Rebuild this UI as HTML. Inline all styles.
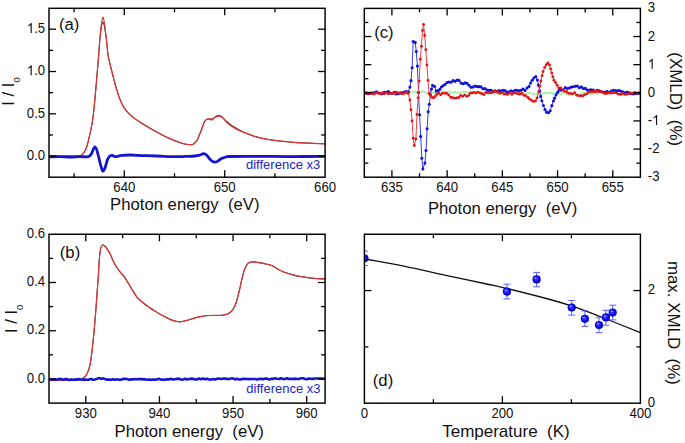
<!DOCTYPE html>
<html><head><meta charset="utf-8"><style>
html,body{margin:0;padding:0;background:#fff;}
svg{display:block;}
text{font-family:"Liberation Sans", sans-serif;}
</style></head><body>
<svg width="685" height="443" viewBox="0 0 685 443">
<rect width="685" height="443" fill="#fff"/>
<defs>
<clipPath id="ca"><rect x="49.0" y="8.3" width="276.1" height="168.89999999999998"/></clipPath>
<clipPath id="cb"><rect x="49.0" y="234.25" width="276.1" height="168.85000000000002"/></clipPath>
<clipPath id="cc"><rect x="364.3" y="8.4" width="276.09999999999997" height="168.79999999999998"/></clipPath>
<clipPath id="cd"><rect x="364.4" y="234.25" width="276.0" height="168.95"/></clipPath>
</defs>
<g clip-path="url(#ca)">
<path d="M49.00,156.30 C51.67,156.28 59.95,156.27 65.00,156.20 C70.05,156.13 76.38,156.23 79.30,155.90 C82.22,155.57 81.55,155.05 82.50,154.20 C83.45,153.35 84.28,152.08 85.00,150.80 C85.72,149.52 86.22,148.30 86.80,146.50 C87.38,144.70 87.85,142.67 88.50,140.00 C89.15,137.33 89.98,134.00 90.70,130.50 C91.42,127.00 92.15,123.68 92.80,119.00 C93.45,114.32 93.95,109.12 94.60,102.40 C95.25,95.68 96.02,86.60 96.70,78.70 C97.38,70.80 98.17,61.54 98.70,55.00 C99.23,48.46 99.45,44.10 99.90,39.45 C100.35,34.80 100.90,29.98 101.40,27.12 C101.90,24.27 102.40,22.47 102.90,22.30 C103.40,22.13 103.83,23.35 104.40,26.12 C104.97,28.90 105.70,34.14 106.30,38.95 C106.90,43.76 107.50,51.33 108.00,55.00 C108.50,58.67 108.82,58.90 109.30,61.00 C109.78,63.10 110.10,64.38 110.90,67.60 C111.70,70.82 113.05,76.35 114.10,80.30 C115.15,84.25 116.02,87.62 117.20,91.30 C118.38,94.98 119.75,99.23 121.20,102.40 C122.65,105.57 124.07,107.93 125.90,110.30 C127.73,112.67 129.68,114.52 132.20,116.60 C134.72,118.68 138.03,120.85 141.00,122.80 C143.97,124.75 146.47,126.27 150.00,128.30 C153.53,130.33 158.53,133.12 162.20,135.00 C165.87,136.88 168.60,138.18 172.00,139.60 C175.40,141.02 179.80,142.67 182.60,143.50 C185.40,144.33 187.03,144.47 188.80,144.60 C190.57,144.73 191.77,145.10 193.20,144.30 C194.63,143.50 196.38,141.35 197.40,139.80 C198.42,138.25 198.65,136.58 199.30,135.00 C199.95,133.42 200.50,132.40 201.30,130.30 C202.10,128.20 203.23,124.22 204.10,122.40 C204.97,120.58 205.65,119.97 206.50,119.40 C207.35,118.83 208.28,118.88 209.20,118.97 C210.12,119.05 210.95,120.29 212.00,119.90 C213.05,119.51 214.38,117.33 215.50,116.60 C216.62,115.87 217.63,115.50 218.70,115.50 C219.77,115.50 220.58,115.60 221.90,116.60 C223.22,117.60 224.90,119.97 226.60,121.50 C228.30,123.03 230.13,124.48 232.10,125.80 C234.07,127.12 236.25,128.23 238.40,129.40 C240.55,130.57 242.67,131.77 245.00,132.80 C247.33,133.83 249.57,134.68 252.40,135.60 C255.23,136.52 257.90,137.45 262.00,138.30 C266.10,139.15 272.00,140.05 277.00,140.70 C282.00,141.35 286.90,141.80 292.00,142.20 C297.10,142.60 302.10,142.83 307.60,143.10 C313.10,143.37 322.10,143.68 325.00,143.80" fill="none" stroke="#333" stroke-width="1.05"/>
<path d="M49.00,156.30 C51.67,156.28 59.95,156.27 65.00,156.20 C70.05,156.13 76.38,156.23 79.30,155.90 C82.22,155.57 81.55,155.05 82.50,154.20 C83.45,153.35 84.28,152.08 85.00,150.80 C85.72,149.52 86.22,148.30 86.80,146.50 C87.38,144.70 87.85,142.67 88.50,140.00 C89.15,137.33 89.98,134.00 90.70,130.50 C91.42,127.00 92.15,123.68 92.80,119.00 C93.45,114.32 93.95,109.12 94.60,102.40 C95.25,95.68 96.02,86.60 96.70,78.70 C97.38,70.80 98.17,61.75 98.70,55.00 C99.23,48.25 99.45,43.37 99.90,38.20 C100.35,33.03 100.90,27.48 101.40,24.00 C101.90,20.52 102.40,17.47 102.90,17.30 C103.40,17.13 103.83,19.52 104.40,23.00 C104.97,26.48 105.70,32.87 106.30,38.20 C106.90,43.53 107.50,51.20 108.00,55.00 C108.50,58.80 108.82,58.90 109.30,61.00 C109.78,63.10 110.10,64.38 110.90,67.60 C111.70,70.82 113.05,76.35 114.10,80.30 C115.15,84.25 116.02,87.62 117.20,91.30 C118.38,94.98 119.75,99.23 121.20,102.40 C122.65,105.57 124.07,107.93 125.90,110.30 C127.73,112.67 129.68,114.52 132.20,116.60 C134.72,118.68 138.03,120.85 141.00,122.80 C143.97,124.75 146.47,126.27 150.00,128.30 C153.53,130.33 158.53,133.12 162.20,135.00 C165.87,136.88 168.60,138.18 172.00,139.60 C175.40,141.02 179.80,142.67 182.60,143.50 C185.40,144.33 187.03,144.47 188.80,144.60 C190.57,144.73 191.77,145.10 193.20,144.30 C194.63,143.50 196.38,141.35 197.40,139.80 C198.42,138.25 198.65,136.58 199.30,135.00 C199.95,133.42 200.50,132.40 201.30,130.30 C202.10,128.20 203.23,124.22 204.10,122.40 C204.97,120.58 205.65,119.98 206.50,119.40 C207.35,118.82 208.28,118.98 209.20,118.90 C210.12,118.82 210.95,119.17 212.00,118.90 C213.05,118.63 214.38,117.75 215.50,117.30 C216.62,116.85 217.63,116.20 218.70,116.20 C219.77,116.20 220.58,116.30 221.90,117.30 C223.22,118.30 224.90,120.67 226.60,122.20 C228.30,123.73 230.13,125.18 232.10,126.50 C234.07,127.82 236.25,129.05 238.40,130.10 C240.55,131.15 242.67,131.88 245.00,132.80 C247.33,133.72 249.57,134.68 252.40,135.60 C255.23,136.52 257.90,137.45 262.00,138.30 C266.10,139.15 272.00,140.05 277.00,140.70 C282.00,141.35 286.90,141.80 292.00,142.20 C297.10,142.60 302.10,142.83 307.60,143.10 C313.10,143.37 322.10,143.68 325.00,143.80" fill="none" stroke="#e23434" stroke-width="1.2"/>
<path d="M49.00,156.80 C50.83,156.77 56.50,156.57 60.00,156.60 C63.50,156.63 66.67,157.00 70.00,157.00 C73.33,157.00 76.95,156.65 80.00,156.60 C83.05,156.55 86.38,157.20 88.30,156.70 C90.22,156.20 90.63,154.90 91.50,153.60 C92.37,152.30 92.90,150.00 93.50,148.90 C94.10,147.80 94.55,146.83 95.10,147.00 C95.65,147.17 96.15,148.00 96.80,149.90 C97.45,151.80 98.30,155.65 99.00,158.40 C99.70,161.15 100.33,164.27 101.00,166.40 C101.67,168.53 102.33,170.95 103.00,171.20 C103.67,171.45 104.23,169.87 105.00,167.90 C105.77,165.93 106.77,161.38 107.60,159.40 C108.43,157.42 109.22,156.67 110.00,156.00 C110.78,155.33 111.43,155.28 112.30,155.40 C113.17,155.52 113.58,156.70 115.20,156.70 C116.82,156.70 119.47,155.68 122.00,155.40 C124.53,155.12 126.90,154.97 130.40,155.00 C133.90,155.03 138.58,155.43 143.00,155.60 C147.42,155.77 151.42,155.82 156.90,156.00 C162.38,156.18 171.22,156.63 175.90,156.70 C180.58,156.77 181.83,156.52 185.00,156.40 C188.17,156.28 192.40,156.23 194.90,156.00 C197.40,155.77 198.58,155.40 200.00,155.00 C201.42,154.60 202.40,153.67 203.40,153.60 C204.40,153.53 205.20,154.03 206.00,154.60 C206.80,155.17 207.37,156.03 208.20,157.00 C209.03,157.97 209.90,159.53 211.00,160.40 C212.10,161.27 213.63,162.10 214.80,162.20 C215.97,162.30 216.88,161.60 218.00,161.00 C219.12,160.40 220.17,159.27 221.50,158.60 C222.83,157.93 224.58,157.35 226.00,157.00 C227.42,156.65 224.33,156.60 230.00,156.50 C235.67,156.40 250.00,156.38 260.00,156.40 C270.00,156.42 279.17,156.62 290.00,156.60 C300.83,156.58 319.17,156.35 325.00,156.30" fill="none" stroke="#1515d0" stroke-width="2.8" stroke-linejoin="round"/>
</g>
<rect x="49.0" y="8.3" width="276.10" height="168.90" fill="none" stroke="#000" stroke-width="1.45"/>
<line x1="124.30" y1="177.2" x2="124.30" y2="170.2" stroke="#000" stroke-width="1.3"/>
<line x1="124.30" y1="8.3" x2="124.30" y2="15.3" stroke="#000" stroke-width="1.3"/>
<line x1="224.70" y1="177.2" x2="224.70" y2="170.2" stroke="#000" stroke-width="1.3"/>
<line x1="224.70" y1="8.3" x2="224.70" y2="15.3" stroke="#000" stroke-width="1.3"/>
<line x1="74.10" y1="177.2" x2="74.10" y2="173.2" stroke="#000" stroke-width="1.3"/>
<line x1="74.10" y1="8.3" x2="74.10" y2="12.3" stroke="#000" stroke-width="1.3"/>
<line x1="174.50" y1="177.2" x2="174.50" y2="173.2" stroke="#000" stroke-width="1.3"/>
<line x1="174.50" y1="8.3" x2="174.50" y2="12.3" stroke="#000" stroke-width="1.3"/>
<line x1="274.90" y1="177.2" x2="274.90" y2="173.2" stroke="#000" stroke-width="1.3"/>
<line x1="274.90" y1="8.3" x2="274.90" y2="12.3" stroke="#000" stroke-width="1.3"/>
<line x1="49.0" y1="156.10" x2="56.0" y2="156.10" stroke="#000" stroke-width="1.3"/>
<line x1="325.1" y1="156.10" x2="318.1" y2="156.10" stroke="#000" stroke-width="1.3"/>
<line x1="49.0" y1="113.80" x2="56.0" y2="113.80" stroke="#000" stroke-width="1.3"/>
<line x1="325.1" y1="113.80" x2="318.1" y2="113.80" stroke="#000" stroke-width="1.3"/>
<line x1="49.0" y1="71.50" x2="56.0" y2="71.50" stroke="#000" stroke-width="1.3"/>
<line x1="325.1" y1="71.50" x2="318.1" y2="71.50" stroke="#000" stroke-width="1.3"/>
<line x1="49.0" y1="29.20" x2="56.0" y2="29.20" stroke="#000" stroke-width="1.3"/>
<line x1="325.1" y1="29.20" x2="318.1" y2="29.20" stroke="#000" stroke-width="1.3"/>
<line x1="49.0" y1="134.95" x2="53.0" y2="134.95" stroke="#000" stroke-width="1.3"/>
<line x1="325.1" y1="134.95" x2="321.1" y2="134.95" stroke="#000" stroke-width="1.3"/>
<line x1="49.0" y1="92.65" x2="53.0" y2="92.65" stroke="#000" stroke-width="1.3"/>
<line x1="325.1" y1="92.65" x2="321.1" y2="92.65" stroke="#000" stroke-width="1.3"/>
<line x1="49.0" y1="50.35" x2="53.0" y2="50.35" stroke="#000" stroke-width="1.3"/>
<line x1="325.1" y1="50.35" x2="321.1" y2="50.35" stroke="#000" stroke-width="1.3"/>
<text transform="translate(124.30,191.80) scale(1,1.075)" font-size="13.2" text-anchor="middle" fill="#111">640</text>
<text transform="translate(224.70,191.80) scale(1,1.075)" font-size="13.2" text-anchor="middle" fill="#111">650</text>
<text transform="translate(325.10,191.80) scale(1,1.075)" font-size="13.2" text-anchor="middle" fill="#111">660</text>
<text transform="translate(45.20,159.80) scale(1,1.075)" font-size="13.2" text-anchor="end" fill="#111">0.0</text>
<text transform="translate(45.20,117.50) scale(1,1.075)" font-size="13.2" text-anchor="end" fill="#111">0.5</text>
<g transform="translate(26.85,75.20) scale(1,1.075)" fill="#111"><path transform="translate(0.00,0) scale(0.006445,-0.006445)" d="M763,0 L583,0 L583,1147 Q518,1085 412,1023 Q306,961 222,930 L222,1104 Q373,1175 486,1276 Q580,1360 630,1420 L763,1420 Z"/><text x="7.34" y="0" font-size="13.2">.0</text></g>
<g transform="translate(26.85,32.90) scale(1,1.075)" fill="#111"><path transform="translate(0.00,0) scale(0.006445,-0.006445)" d="M763,0 L583,0 L583,1147 Q518,1085 412,1023 Q306,961 222,930 L222,1104 Q373,1175 486,1276 Q580,1360 630,1420 L763,1420 Z"/><text x="7.34" y="0" font-size="13.2">.5</text></g>
<text x="110.10" y="209.50" font-size="16.7" text-anchor="start" fill="#111" >Photon energy&#160;&#160;(eV)</text>
<text x="59.00" y="29.70" font-size="16.7" text-anchor="start" fill="#111" >(a)</text>
<text x="246.00" y="169.20" font-size="13.0" text-anchor="start" fill="#2424cc" >difference x3</text>
<g transform="translate(14.3,105.8) rotate(-90)"><text x="0" y="0" font-size="16.7" fill="#111">I / I<tspan font-size="9.6" dy="6">0</tspan></text></g>
<g clip-path="url(#cb)">
<path d="M49.00,380.30 C51.67,380.30 60.17,380.35 65.00,380.30 C69.83,380.25 75.12,380.28 78.00,380.00 C80.88,379.72 81.13,379.17 82.30,378.60 C83.47,378.03 84.15,377.53 85.00,376.60 C85.85,375.67 86.73,374.35 87.40,373.00 C88.07,371.65 88.50,370.18 89.00,368.50 C89.50,366.82 89.82,366.53 90.40,362.90 C90.98,359.27 91.82,352.78 92.50,346.70 C93.18,340.62 93.82,334.18 94.50,326.40 C95.18,318.62 95.98,308.15 96.60,300.00 C97.22,291.85 97.73,284.42 98.20,277.50 C98.67,270.58 99.02,263.17 99.40,258.50 C99.78,253.83 100.13,251.55 100.50,249.50 C100.87,247.45 101.20,246.93 101.60,246.20 C102.00,245.47 102.45,245.20 102.90,245.10 C103.35,245.00 103.77,245.20 104.30,245.60 C104.83,246.00 105.15,246.13 106.10,247.50 C107.05,248.87 108.57,251.05 110.00,253.80 C111.43,256.55 113.12,261.10 114.70,264.00 C116.28,266.90 117.92,269.08 119.50,271.20 C121.08,273.32 122.75,274.73 124.20,276.70 C125.65,278.67 126.75,280.63 128.20,283.00 C129.65,285.37 131.33,288.40 132.90,290.90 C134.47,293.40 135.75,295.90 137.60,298.00 C139.45,300.10 142.02,301.92 144.00,303.50 C145.98,305.08 147.73,306.27 149.50,307.50 C151.27,308.73 152.53,309.60 154.60,310.90 C156.67,312.20 159.47,313.97 161.90,315.30 C164.33,316.63 167.02,317.93 169.20,318.90 C171.38,319.87 173.18,320.62 175.00,321.10 C176.82,321.58 178.15,321.92 180.10,321.80 C182.05,321.68 184.38,321.00 186.70,320.40 C189.02,319.80 191.57,318.87 194.00,318.20 C196.43,317.53 198.62,316.85 201.30,316.40 C203.98,315.95 206.93,315.67 210.10,315.50 C213.27,315.33 217.57,315.57 220.30,315.40 C223.03,315.23 224.80,315.03 226.50,314.50 C228.20,313.97 229.33,313.20 230.50,312.20 C231.67,311.20 232.55,310.12 233.50,308.50 C234.45,306.88 235.25,305.40 236.20,302.50 C237.15,299.60 238.17,295.37 239.20,291.10 C240.23,286.83 241.48,280.58 242.40,276.90 C243.32,273.22 243.78,271.25 244.70,269.00 C245.62,266.75 246.58,264.60 247.90,263.40 C249.22,262.20 250.62,261.90 252.60,261.80 C254.58,261.70 257.70,262.47 259.80,262.80 C261.90,263.13 263.10,263.30 265.20,263.80 C267.30,264.30 270.35,264.95 272.40,265.80 C274.45,266.65 275.63,267.87 277.50,268.90 C279.37,269.93 281.38,271.12 283.60,272.00 C285.82,272.88 288.42,273.52 290.80,274.20 C293.18,274.88 295.35,275.57 297.90,276.10 C300.45,276.63 303.03,276.98 306.10,277.40 C309.17,277.82 313.15,278.35 316.30,278.60 C319.45,278.85 323.55,278.85 325.00,278.90" fill="none" stroke="#333" stroke-width="1.05"/>
<path d="M49.00,380.30 C51.67,380.30 60.17,380.35 65.00,380.30 C69.83,380.25 75.12,380.28 78.00,380.00 C80.88,379.72 81.13,379.17 82.30,378.60 C83.47,378.03 84.15,377.53 85.00,376.60 C85.85,375.67 86.73,374.35 87.40,373.00 C88.07,371.65 88.50,370.18 89.00,368.50 C89.50,366.82 89.82,366.53 90.40,362.90 C90.98,359.27 91.82,352.78 92.50,346.70 C93.18,340.62 93.82,334.18 94.50,326.40 C95.18,318.62 95.98,308.15 96.60,300.00 C97.22,291.85 97.73,284.42 98.20,277.50 C98.67,270.58 99.02,263.17 99.40,258.50 C99.78,253.83 100.13,251.55 100.50,249.50 C100.87,247.45 101.20,246.93 101.60,246.20 C102.00,245.47 102.45,245.20 102.90,245.10 C103.35,245.00 103.77,245.20 104.30,245.60 C104.83,246.00 105.15,246.13 106.10,247.50 C107.05,248.87 108.57,251.05 110.00,253.80 C111.43,256.55 113.12,261.10 114.70,264.00 C116.28,266.90 117.92,269.08 119.50,271.20 C121.08,273.32 122.75,274.73 124.20,276.70 C125.65,278.67 126.75,280.63 128.20,283.00 C129.65,285.37 131.33,288.40 132.90,290.90 C134.47,293.40 135.75,295.90 137.60,298.00 C139.45,300.10 142.02,301.92 144.00,303.50 C145.98,305.08 147.73,306.27 149.50,307.50 C151.27,308.73 152.53,309.60 154.60,310.90 C156.67,312.20 159.47,313.97 161.90,315.30 C164.33,316.63 167.02,317.93 169.20,318.90 C171.38,319.87 173.18,320.62 175.00,321.10 C176.82,321.58 178.15,321.92 180.10,321.80 C182.05,321.68 184.38,321.00 186.70,320.40 C189.02,319.80 191.57,318.87 194.00,318.20 C196.43,317.53 198.62,316.85 201.30,316.40 C203.98,315.95 206.93,315.67 210.10,315.50 C213.27,315.33 217.57,315.57 220.30,315.40 C223.03,315.23 224.80,315.03 226.50,314.50 C228.20,313.97 229.33,313.20 230.50,312.20 C231.67,311.20 232.55,310.12 233.50,308.50 C234.45,306.88 235.25,305.40 236.20,302.50 C237.15,299.60 238.17,295.37 239.20,291.10 C240.23,286.83 241.48,280.58 242.40,276.90 C243.32,273.22 243.78,271.25 244.70,269.00 C245.62,266.75 246.58,264.60 247.90,263.40 C249.22,262.20 250.62,261.90 252.60,261.80 C254.58,261.70 257.70,262.47 259.80,262.80 C261.90,263.13 263.10,263.30 265.20,263.80 C267.30,264.30 270.35,264.95 272.40,265.80 C274.45,266.65 275.63,267.87 277.50,268.90 C279.37,269.93 281.38,271.12 283.60,272.00 C285.82,272.88 288.42,273.52 290.80,274.20 C293.18,274.88 295.35,275.57 297.90,276.10 C300.45,276.63 303.03,276.98 306.10,277.40 C309.17,277.82 313.15,278.35 316.30,278.60 C319.45,278.85 323.55,278.85 325.00,278.90" fill="none" stroke="#e23434" stroke-width="1.2"/>
<path d="M49.00,379.19 L51.00,379.55 L53.00,379.33 L55.00,379.61 L57.00,379.63 L59.00,378.95 L61.00,378.88 L63.00,379.86 L65.00,379.16 L67.00,379.13 L69.00,380.04 L71.00,379.40 L73.00,379.83 L75.00,379.40 L77.00,379.59 L79.00,378.99 L81.00,379.57 L83.00,379.84 L85.00,379.42 L87.00,379.68 L89.00,379.59 L91.00,378.86 L93.00,379.68 L95.00,379.48 L97.00,378.84 L99.00,378.11 L101.00,378.71 L103.00,378.39 L105.00,379.08 L107.00,379.67 L109.00,379.58 L111.00,379.83 L113.00,379.19 L115.00,379.67 L117.00,379.24 L119.00,379.82 L121.00,379.75 L123.00,378.80 L125.00,378.84 L127.00,378.93 L129.00,379.83 L131.00,379.19 L133.00,379.41 L135.00,379.01 L137.00,379.25 L139.00,379.10 L141.00,379.05 L143.00,379.33 L145.00,379.32 L147.00,379.70 L149.00,379.43 L151.00,379.72 L153.00,379.63 L155.00,379.78 L157.00,379.39 L159.00,378.78 L161.00,379.61 L163.00,379.73 L165.00,379.65 L167.00,379.24 L169.00,379.41 L171.00,378.80 L173.00,379.54 L175.00,379.22 L177.00,378.87 L179.00,378.60 L181.00,379.54 L183.00,379.70 L185.00,378.61 L187.00,379.46 L189.00,378.99 L191.00,378.67 L193.00,378.84 L195.00,379.40 L197.00,379.52 L199.00,378.52 L201.00,379.20 L203.00,378.51 L205.00,379.31 L207.00,378.84 L209.00,379.49 L211.00,379.61 L213.00,379.03 L215.00,379.62 L217.00,378.78 L219.00,378.50 L221.00,379.12 L223.00,378.43 L225.00,378.63 L227.00,378.87 L229.00,379.11 L231.00,378.56 L233.00,378.42 L235.00,379.40 L237.00,378.73 L239.00,379.50 L241.00,379.42 L243.00,378.79 L245.00,378.88 L247.00,378.95 L249.00,379.09 L251.00,379.03 L253.00,378.98 L255.00,379.05 L257.00,379.43 L259.00,378.90 L261.00,378.80 L263.00,379.14 L265.00,378.56 L267.00,378.63 L269.00,379.44 L271.00,378.88 L273.00,378.91 L275.00,378.26 L277.00,378.74 L279.00,378.93 L281.00,378.25 L283.00,378.96 L285.00,378.97 L287.00,378.28 L289.00,378.96 L291.00,378.76 L293.00,379.01 L295.00,378.61 L297.00,379.03 L299.00,379.06 L301.00,378.20 L303.00,378.24 L305.00,378.97 L307.00,379.31 L309.00,378.45 L311.00,378.69 L313.00,378.85 L315.00,378.51 L317.00,378.56 L319.00,378.49 L321.00,378.55 L323.00,378.82 L325.00,378.46" fill="none" stroke="#1515d0" stroke-width="2.6" stroke-linejoin="round"/>
</g>
<rect x="49.0" y="234.25" width="276.10" height="168.85" fill="none" stroke="#000" stroke-width="1.45"/>
<line x1="85.81" y1="403.1" x2="85.81" y2="396.1" stroke="#000" stroke-width="1.3"/>
<line x1="85.81" y1="234.25" x2="85.81" y2="241.25" stroke="#000" stroke-width="1.3"/>
<line x1="159.44" y1="403.1" x2="159.44" y2="396.1" stroke="#000" stroke-width="1.3"/>
<line x1="159.44" y1="234.25" x2="159.44" y2="241.25" stroke="#000" stroke-width="1.3"/>
<line x1="233.07" y1="403.1" x2="233.07" y2="396.1" stroke="#000" stroke-width="1.3"/>
<line x1="233.07" y1="234.25" x2="233.07" y2="241.25" stroke="#000" stroke-width="1.3"/>
<line x1="306.69" y1="403.1" x2="306.69" y2="396.1" stroke="#000" stroke-width="1.3"/>
<line x1="306.69" y1="234.25" x2="306.69" y2="241.25" stroke="#000" stroke-width="1.3"/>
<line x1="122.63" y1="403.1" x2="122.63" y2="399.1" stroke="#000" stroke-width="1.3"/>
<line x1="122.63" y1="234.25" x2="122.63" y2="238.25" stroke="#000" stroke-width="1.3"/>
<line x1="196.25" y1="403.1" x2="196.25" y2="399.1" stroke="#000" stroke-width="1.3"/>
<line x1="196.25" y1="234.25" x2="196.25" y2="238.25" stroke="#000" stroke-width="1.3"/>
<line x1="269.88" y1="403.1" x2="269.88" y2="399.1" stroke="#000" stroke-width="1.3"/>
<line x1="269.88" y1="234.25" x2="269.88" y2="238.25" stroke="#000" stroke-width="1.3"/>
<line x1="49.0" y1="378.98" x2="56.0" y2="378.98" stroke="#000" stroke-width="1.3"/>
<line x1="325.1" y1="378.98" x2="318.1" y2="378.98" stroke="#000" stroke-width="1.3"/>
<line x1="49.0" y1="330.74" x2="56.0" y2="330.74" stroke="#000" stroke-width="1.3"/>
<line x1="325.1" y1="330.74" x2="318.1" y2="330.74" stroke="#000" stroke-width="1.3"/>
<line x1="49.0" y1="282.49" x2="56.0" y2="282.49" stroke="#000" stroke-width="1.3"/>
<line x1="325.1" y1="282.49" x2="318.1" y2="282.49" stroke="#000" stroke-width="1.3"/>
<line x1="49.0" y1="354.86" x2="53.0" y2="354.86" stroke="#000" stroke-width="1.3"/>
<line x1="325.1" y1="354.86" x2="321.1" y2="354.86" stroke="#000" stroke-width="1.3"/>
<line x1="49.0" y1="306.61" x2="53.0" y2="306.61" stroke="#000" stroke-width="1.3"/>
<line x1="325.1" y1="306.61" x2="321.1" y2="306.61" stroke="#000" stroke-width="1.3"/>
<line x1="49.0" y1="258.37" x2="53.0" y2="258.37" stroke="#000" stroke-width="1.3"/>
<line x1="325.1" y1="258.37" x2="321.1" y2="258.37" stroke="#000" stroke-width="1.3"/>
<text transform="translate(85.81,418.00) scale(1,1.075)" font-size="13.2" text-anchor="middle" fill="#111">930</text>
<text transform="translate(159.44,418.00) scale(1,1.075)" font-size="13.2" text-anchor="middle" fill="#111">940</text>
<text transform="translate(233.07,418.00) scale(1,1.075)" font-size="13.2" text-anchor="middle" fill="#111">950</text>
<text transform="translate(306.69,418.00) scale(1,1.075)" font-size="13.2" text-anchor="middle" fill="#111">960</text>
<text transform="translate(45.20,382.68) scale(1,1.075)" font-size="13.2" text-anchor="end" fill="#111">0.0</text>
<text transform="translate(45.20,334.44) scale(1,1.075)" font-size="13.2" text-anchor="end" fill="#111">0.2</text>
<text transform="translate(45.20,286.19) scale(1,1.075)" font-size="13.2" text-anchor="end" fill="#111">0.4</text>
<text transform="translate(45.20,237.95) scale(1,1.075)" font-size="13.2" text-anchor="end" fill="#111">0.6</text>
<text x="114.50" y="437.30" font-size="16.7" text-anchor="start" fill="#111" >Photon energy&#160;&#160;(eV)</text>
<text x="59.80" y="258.20" font-size="16.7" text-anchor="start" fill="#111" >(b)</text>
<text x="246.30" y="392.70" font-size="13.0" text-anchor="start" fill="#2424cc" >difference x3</text>
<g transform="translate(16.9,333.1) rotate(-90)"><text x="0" y="0" font-size="16.7" fill="#111">I / I<tspan font-size="9.6" dy="6">0</tspan></text></g>
<g clip-path="url(#cc)">
<path d="M404.00,92.01 L405.80,91.63 L407.60,92.73 L409.40,91.46 L411.20,92.48 L413.00,92.10 L414.80,91.43 L416.60,92.42 L418.40,91.38 L420.20,92.25 L422.00,91.45 L423.80,91.50 L425.60,92.23 L427.40,93.12 L429.20,91.57 L431.00,91.79 L432.80,92.68 L434.60,93.38 L436.40,92.57 L438.20,92.17 L440.00,93.45 L441.80,91.42 L443.60,93.23 L445.40,92.00 L447.20,91.70 L449.00,91.66 L450.80,92.10 L452.60,93.23 L454.40,91.86 L456.20,92.76 L458.00,92.90 L459.80,92.34 L461.60,92.74 L463.40,91.70 L465.20,91.71 L467.00,92.05 L468.80,93.11 L470.60,92.58 L472.40,92.35 L474.20,92.96 L476.00,92.69 L477.80,92.38 L479.60,93.48 L481.40,93.29 L483.20,92.31 L485.00,93.06 L486.80,92.97 L488.60,93.76 L490.40,93.46 L492.20,92.51 L494.00,94.05 L495.80,92.17 L497.60,92.85 L499.40,93.62 L501.20,92.31 L503.00,93.07 L504.80,92.10 L506.60,93.50 L508.40,93.73 L510.20,93.33 L512.00,94.02 L513.80,92.80 L515.60,93.66 L517.40,93.46 L519.20,93.45 L521.00,93.19 L522.80,94.06 L524.60,94.31 L526.40,93.29 L528.20,93.73 L530.00,92.42 L531.80,93.85 L533.60,93.75 L535.40,94.53 L537.20,94.18 L539.00,93.02 L540.80,93.26 L542.60,93.90 L544.40,92.50 L546.20,93.48 L548.00,92.86 L549.80,92.77 L551.60,92.66 L553.40,94.24 L555.20,92.85 L557.00,93.13 L558.80,93.47 L560.60,94.54 L562.40,92.82 L564.20,93.65 L566.00,93.89 L567.80,94.65 L569.60,94.53 L571.40,94.65 L573.20,93.38 L575.00,93.70 L576.80,93.59 L578.60,94.77 L580.40,94.95 L582.20,93.20 L584.00,93.27 L585.80,93.41 L587.60,93.44 L589.40,94.01 L591.20,94.26 L593.00,93.56 L594.80,93.01 L596.60,93.94 L598.40,93.85" fill="none" stroke="#a4f0a4" stroke-width="1.8"/>
<path d="M364.30,92.51 L366.30,92.92 L368.30,93.78 L370.30,93.10 L372.30,92.91 L374.30,92.78 L376.30,91.88 L378.30,92.80 L380.30,93.35 L382.30,93.87 L384.30,92.25 L386.30,92.26 L388.30,91.60 L390.30,93.15 L392.30,93.20 L394.30,92.29 L396.30,93.91 L398.30,93.64 L400.30,92.88 L402.30,92.81 L404.30,91.98 L406.30,91.55 L408.30,91.70 L409.90,87.10 L411.00,80.67 L412.10,67.79 L413.20,41.52 L415.20,42.40 L416.30,51.45 L417.40,66.10 L418.50,92.58 L419.60,114.82 L420.70,136.43 L421.80,158.27 L422.90,169.02 L424.90,163.10 L426.00,150.46 L427.10,128.87 L428.20,111.85 L429.30,104.18 L430.40,94.85 L431.50,89.11 L432.60,85.42 L434.60,86.46 L436.20,90.88 L438.20,90.82 L439.80,89.31 L441.40,87.00 L443.00,85.68 L445.00,84.53 L447.00,82.52 L449.00,82.01 L451.00,82.25 L453.00,80.61 L455.00,81.33 L457.00,80.08 L459.00,80.41 L461.00,82.93 L463.00,83.80 L465.00,82.89 L467.00,83.36 L469.00,85.27 L471.00,87.23 L473.00,87.06 L475.00,86.10 L477.00,86.59 L479.00,86.66 L481.00,86.91 L483.00,88.76 L485.00,88.45 L487.00,89.94 L489.00,90.41 L491.00,90.28 L493.00,91.58 L495.00,90.84 L497.00,91.62 L499.00,90.53 L501.00,90.93 L503.00,90.42 L505.00,90.58 L507.00,91.96 L509.00,91.78 L511.00,90.83 L513.00,91.65 L515.00,90.22 L517.00,90.32 L519.00,90.90 L521.00,90.27 L523.00,89.05 L525.00,90.41 L527.00,87.93 L529.00,86.41 L530.60,82.96 L532.20,80.27 L533.80,77.93 L535.80,76.44 L537.40,80.00 L538.50,85.16 L539.60,90.92 L540.70,96.42 L541.80,100.78 L543.40,105.48 L545.00,109.46 L546.60,112.13 L548.60,112.70 L550.20,110.72 L551.80,105.66 L553.40,101.04 L554.50,98.15 L556.10,94.89 L557.70,92.13 L559.30,89.94 L561.30,90.12 L563.30,89.68 L565.30,87.59 L567.30,88.54 L569.30,88.00 L571.30,87.09 L573.30,86.76 L575.30,86.19 L577.30,86.07 L579.30,87.73 L581.30,86.89 L583.30,88.48 L585.30,88.41 L587.30,89.94 L589.30,90.04 L591.30,89.88 L593.30,89.94 L595.30,91.20 L597.30,90.30 L599.30,90.84 L601.30,91.60 L603.30,92.28 L605.30,92.01 L607.30,91.57 L609.30,92.51 L611.30,90.94 L613.30,90.30 L615.30,90.46 L617.30,90.80 L619.30,90.61 L621.30,91.32 L623.30,92.16 L625.30,92.81 L627.30,92.16 L629.30,92.71 L631.30,93.80 L633.30,94.06 L635.30,93.48 L637.30,93.54 L639.30,93.35" fill="none" stroke="#3a3af0" stroke-width="1"/>
<circle cx="364.30" cy="92.51" r="1.55" fill="#1010d8"/>
<circle cx="366.30" cy="92.92" r="1.55" fill="#1010d8"/>
<circle cx="368.30" cy="93.78" r="1.55" fill="#1010d8"/>
<circle cx="370.30" cy="93.10" r="1.55" fill="#1010d8"/>
<circle cx="372.30" cy="92.91" r="1.55" fill="#1010d8"/>
<circle cx="374.30" cy="92.78" r="1.55" fill="#1010d8"/>
<circle cx="376.30" cy="91.88" r="1.55" fill="#1010d8"/>
<circle cx="378.30" cy="92.80" r="1.55" fill="#1010d8"/>
<circle cx="380.30" cy="93.35" r="1.55" fill="#1010d8"/>
<circle cx="382.30" cy="93.87" r="1.55" fill="#1010d8"/>
<circle cx="384.30" cy="92.25" r="1.55" fill="#1010d8"/>
<circle cx="386.30" cy="92.26" r="1.55" fill="#1010d8"/>
<circle cx="388.30" cy="91.60" r="1.55" fill="#1010d8"/>
<circle cx="390.30" cy="93.15" r="1.55" fill="#1010d8"/>
<circle cx="392.30" cy="93.20" r="1.55" fill="#1010d8"/>
<circle cx="394.30" cy="92.29" r="1.55" fill="#1010d8"/>
<circle cx="396.30" cy="93.91" r="1.55" fill="#1010d8"/>
<circle cx="398.30" cy="93.64" r="1.55" fill="#1010d8"/>
<circle cx="400.30" cy="92.88" r="1.55" fill="#1010d8"/>
<circle cx="402.30" cy="92.81" r="1.55" fill="#1010d8"/>
<circle cx="404.30" cy="91.98" r="1.55" fill="#1010d8"/>
<circle cx="406.30" cy="91.55" r="1.55" fill="#1010d8"/>
<circle cx="408.30" cy="91.70" r="1.55" fill="#1010d8"/>
<circle cx="409.90" cy="87.10" r="1.55" fill="#1010d8"/>
<circle cx="411.00" cy="80.67" r="1.55" fill="#1010d8"/>
<circle cx="412.10" cy="67.79" r="1.55" fill="#1010d8"/>
<circle cx="413.20" cy="41.52" r="1.55" fill="#1010d8"/>
<circle cx="415.20" cy="42.40" r="1.55" fill="#1010d8"/>
<circle cx="416.30" cy="51.45" r="1.55" fill="#1010d8"/>
<circle cx="417.40" cy="66.10" r="1.55" fill="#1010d8"/>
<circle cx="418.50" cy="92.58" r="1.55" fill="#1010d8"/>
<circle cx="419.60" cy="114.82" r="1.55" fill="#1010d8"/>
<circle cx="420.70" cy="136.43" r="1.55" fill="#1010d8"/>
<circle cx="421.80" cy="158.27" r="1.55" fill="#1010d8"/>
<circle cx="422.90" cy="169.02" r="1.55" fill="#1010d8"/>
<circle cx="424.90" cy="163.10" r="1.55" fill="#1010d8"/>
<circle cx="426.00" cy="150.46" r="1.55" fill="#1010d8"/>
<circle cx="427.10" cy="128.87" r="1.55" fill="#1010d8"/>
<circle cx="428.20" cy="111.85" r="1.55" fill="#1010d8"/>
<circle cx="429.30" cy="104.18" r="1.55" fill="#1010d8"/>
<circle cx="430.40" cy="94.85" r="1.55" fill="#1010d8"/>
<circle cx="431.50" cy="89.11" r="1.55" fill="#1010d8"/>
<circle cx="432.60" cy="85.42" r="1.55" fill="#1010d8"/>
<circle cx="434.60" cy="86.46" r="1.55" fill="#1010d8"/>
<circle cx="436.20" cy="90.88" r="1.55" fill="#1010d8"/>
<circle cx="438.20" cy="90.82" r="1.55" fill="#1010d8"/>
<circle cx="439.80" cy="89.31" r="1.55" fill="#1010d8"/>
<circle cx="441.40" cy="87.00" r="1.55" fill="#1010d8"/>
<circle cx="443.00" cy="85.68" r="1.55" fill="#1010d8"/>
<circle cx="445.00" cy="84.53" r="1.55" fill="#1010d8"/>
<circle cx="447.00" cy="82.52" r="1.55" fill="#1010d8"/>
<circle cx="449.00" cy="82.01" r="1.55" fill="#1010d8"/>
<circle cx="451.00" cy="82.25" r="1.55" fill="#1010d8"/>
<circle cx="453.00" cy="80.61" r="1.55" fill="#1010d8"/>
<circle cx="455.00" cy="81.33" r="1.55" fill="#1010d8"/>
<circle cx="457.00" cy="80.08" r="1.55" fill="#1010d8"/>
<circle cx="459.00" cy="80.41" r="1.55" fill="#1010d8"/>
<circle cx="461.00" cy="82.93" r="1.55" fill="#1010d8"/>
<circle cx="463.00" cy="83.80" r="1.55" fill="#1010d8"/>
<circle cx="465.00" cy="82.89" r="1.55" fill="#1010d8"/>
<circle cx="467.00" cy="83.36" r="1.55" fill="#1010d8"/>
<circle cx="469.00" cy="85.27" r="1.55" fill="#1010d8"/>
<circle cx="471.00" cy="87.23" r="1.55" fill="#1010d8"/>
<circle cx="473.00" cy="87.06" r="1.55" fill="#1010d8"/>
<circle cx="475.00" cy="86.10" r="1.55" fill="#1010d8"/>
<circle cx="477.00" cy="86.59" r="1.55" fill="#1010d8"/>
<circle cx="479.00" cy="86.66" r="1.55" fill="#1010d8"/>
<circle cx="481.00" cy="86.91" r="1.55" fill="#1010d8"/>
<circle cx="483.00" cy="88.76" r="1.55" fill="#1010d8"/>
<circle cx="485.00" cy="88.45" r="1.55" fill="#1010d8"/>
<circle cx="487.00" cy="89.94" r="1.55" fill="#1010d8"/>
<circle cx="489.00" cy="90.41" r="1.55" fill="#1010d8"/>
<circle cx="491.00" cy="90.28" r="1.55" fill="#1010d8"/>
<circle cx="493.00" cy="91.58" r="1.55" fill="#1010d8"/>
<circle cx="495.00" cy="90.84" r="1.55" fill="#1010d8"/>
<circle cx="497.00" cy="91.62" r="1.55" fill="#1010d8"/>
<circle cx="499.00" cy="90.53" r="1.55" fill="#1010d8"/>
<circle cx="501.00" cy="90.93" r="1.55" fill="#1010d8"/>
<circle cx="503.00" cy="90.42" r="1.55" fill="#1010d8"/>
<circle cx="505.00" cy="90.58" r="1.55" fill="#1010d8"/>
<circle cx="507.00" cy="91.96" r="1.55" fill="#1010d8"/>
<circle cx="509.00" cy="91.78" r="1.55" fill="#1010d8"/>
<circle cx="511.00" cy="90.83" r="1.55" fill="#1010d8"/>
<circle cx="513.00" cy="91.65" r="1.55" fill="#1010d8"/>
<circle cx="515.00" cy="90.22" r="1.55" fill="#1010d8"/>
<circle cx="517.00" cy="90.32" r="1.55" fill="#1010d8"/>
<circle cx="519.00" cy="90.90" r="1.55" fill="#1010d8"/>
<circle cx="521.00" cy="90.27" r="1.55" fill="#1010d8"/>
<circle cx="523.00" cy="89.05" r="1.55" fill="#1010d8"/>
<circle cx="525.00" cy="90.41" r="1.55" fill="#1010d8"/>
<circle cx="527.00" cy="87.93" r="1.55" fill="#1010d8"/>
<circle cx="529.00" cy="86.41" r="1.55" fill="#1010d8"/>
<circle cx="530.60" cy="82.96" r="1.55" fill="#1010d8"/>
<circle cx="532.20" cy="80.27" r="1.55" fill="#1010d8"/>
<circle cx="533.80" cy="77.93" r="1.55" fill="#1010d8"/>
<circle cx="535.80" cy="76.44" r="1.55" fill="#1010d8"/>
<circle cx="537.40" cy="80.00" r="1.55" fill="#1010d8"/>
<circle cx="538.50" cy="85.16" r="1.55" fill="#1010d8"/>
<circle cx="539.60" cy="90.92" r="1.55" fill="#1010d8"/>
<circle cx="540.70" cy="96.42" r="1.55" fill="#1010d8"/>
<circle cx="541.80" cy="100.78" r="1.55" fill="#1010d8"/>
<circle cx="543.40" cy="105.48" r="1.55" fill="#1010d8"/>
<circle cx="545.00" cy="109.46" r="1.55" fill="#1010d8"/>
<circle cx="546.60" cy="112.13" r="1.55" fill="#1010d8"/>
<circle cx="548.60" cy="112.70" r="1.55" fill="#1010d8"/>
<circle cx="550.20" cy="110.72" r="1.55" fill="#1010d8"/>
<circle cx="551.80" cy="105.66" r="1.55" fill="#1010d8"/>
<circle cx="553.40" cy="101.04" r="1.55" fill="#1010d8"/>
<circle cx="554.50" cy="98.15" r="1.55" fill="#1010d8"/>
<circle cx="556.10" cy="94.89" r="1.55" fill="#1010d8"/>
<circle cx="557.70" cy="92.13" r="1.55" fill="#1010d8"/>
<circle cx="559.30" cy="89.94" r="1.55" fill="#1010d8"/>
<circle cx="561.30" cy="90.12" r="1.55" fill="#1010d8"/>
<circle cx="563.30" cy="89.68" r="1.55" fill="#1010d8"/>
<circle cx="565.30" cy="87.59" r="1.55" fill="#1010d8"/>
<circle cx="567.30" cy="88.54" r="1.55" fill="#1010d8"/>
<circle cx="569.30" cy="88.00" r="1.55" fill="#1010d8"/>
<circle cx="571.30" cy="87.09" r="1.55" fill="#1010d8"/>
<circle cx="573.30" cy="86.76" r="1.55" fill="#1010d8"/>
<circle cx="575.30" cy="86.19" r="1.55" fill="#1010d8"/>
<circle cx="577.30" cy="86.07" r="1.55" fill="#1010d8"/>
<circle cx="579.30" cy="87.73" r="1.55" fill="#1010d8"/>
<circle cx="581.30" cy="86.89" r="1.55" fill="#1010d8"/>
<circle cx="583.30" cy="88.48" r="1.55" fill="#1010d8"/>
<circle cx="585.30" cy="88.41" r="1.55" fill="#1010d8"/>
<circle cx="587.30" cy="89.94" r="1.55" fill="#1010d8"/>
<circle cx="589.30" cy="90.04" r="1.55" fill="#1010d8"/>
<circle cx="591.30" cy="89.88" r="1.55" fill="#1010d8"/>
<circle cx="593.30" cy="89.94" r="1.55" fill="#1010d8"/>
<circle cx="595.30" cy="91.20" r="1.55" fill="#1010d8"/>
<circle cx="597.30" cy="90.30" r="1.55" fill="#1010d8"/>
<circle cx="599.30" cy="90.84" r="1.55" fill="#1010d8"/>
<circle cx="601.30" cy="91.60" r="1.55" fill="#1010d8"/>
<circle cx="603.30" cy="92.28" r="1.55" fill="#1010d8"/>
<circle cx="605.30" cy="92.01" r="1.55" fill="#1010d8"/>
<circle cx="607.30" cy="91.57" r="1.55" fill="#1010d8"/>
<circle cx="609.30" cy="92.51" r="1.55" fill="#1010d8"/>
<circle cx="611.30" cy="90.94" r="1.55" fill="#1010d8"/>
<circle cx="613.30" cy="90.30" r="1.55" fill="#1010d8"/>
<circle cx="615.30" cy="90.46" r="1.55" fill="#1010d8"/>
<circle cx="617.30" cy="90.80" r="1.55" fill="#1010d8"/>
<circle cx="619.30" cy="90.61" r="1.55" fill="#1010d8"/>
<circle cx="621.30" cy="91.32" r="1.55" fill="#1010d8"/>
<circle cx="623.30" cy="92.16" r="1.55" fill="#1010d8"/>
<circle cx="625.30" cy="92.81" r="1.55" fill="#1010d8"/>
<circle cx="627.30" cy="92.16" r="1.55" fill="#1010d8"/>
<circle cx="629.30" cy="92.71" r="1.55" fill="#1010d8"/>
<circle cx="631.30" cy="93.80" r="1.55" fill="#1010d8"/>
<circle cx="633.30" cy="94.06" r="1.55" fill="#1010d8"/>
<circle cx="635.30" cy="93.48" r="1.55" fill="#1010d8"/>
<circle cx="637.30" cy="93.54" r="1.55" fill="#1010d8"/>
<circle cx="639.30" cy="93.35" r="1.55" fill="#1010d8"/>
<path d="M364.30,93.42 L366.30,93.42 L368.30,93.31 L370.30,93.45 L372.30,93.42 L374.30,94.08 L376.30,92.70 L378.30,93.15 L380.30,93.68 L382.30,92.93 L384.30,93.78 L386.30,92.76 L388.30,93.71 L390.30,93.08 L392.30,93.39 L394.30,93.21 L396.30,92.28 L398.30,92.89 L400.30,93.14 L402.30,93.89 L404.30,93.22 L406.30,92.32 L408.30,93.63 L409.90,99.93 L411.00,109.71 L412.10,121.00 L413.20,138.23 L414.30,145.43 L415.90,138.88 L417.00,114.40 L418.10,97.84 L419.20,81.10 L420.30,59.20 L421.40,46.25 L422.50,30.56 L423.60,24.40 L424.70,35.57 L425.80,49.75 L426.90,65.00 L428.00,80.40 L429.10,93.74 L430.70,95.46 L432.30,97.45 L433.90,97.70 L435.50,96.04 L437.10,94.13 L438.70,92.91 L440.70,94.79 L442.70,93.25 L444.70,93.25 L446.70,93.35 L448.70,95.06 L450.70,97.26 L452.70,97.63 L454.70,98.24 L456.70,97.89 L458.70,97.56 L460.70,95.57 L462.70,96.40 L464.70,94.86 L466.70,96.41 L468.70,95.38 L470.30,93.02 L471.90,93.08 L473.90,92.46 L475.90,92.99 L477.90,92.10 L479.90,92.84 L481.90,93.82 L483.90,94.63 L485.90,92.46 L487.90,92.66 L489.90,92.66 L491.90,92.53 L493.90,91.30 L495.90,91.46 L497.90,92.26 L499.90,93.21 L501.90,92.50 L503.90,94.05 L505.90,94.14 L507.90,94.25 L509.90,92.77 L511.90,94.40 L513.90,92.86 L515.90,93.31 L517.90,93.80 L519.90,94.35 L521.90,93.31 L523.90,95.29 L525.90,95.92 L527.90,97.53 L529.50,98.96 L531.50,100.39 L533.50,101.54 L535.50,101.05 L537.10,97.92 L538.70,91.87 L539.80,86.31 L540.90,81.00 L542.00,75.77 L543.10,71.46 L544.70,67.38 L546.30,64.68 L547.90,62.96 L549.50,65.06 L550.60,68.90 L551.70,72.94 L552.80,76.68 L553.90,80.17 L555.50,82.43 L557.10,85.22 L558.70,88.07 L560.70,87.91 L562.70,90.02 L564.70,91.39 L566.70,91.79 L568.70,93.26 L570.70,93.39 L572.70,93.90 L574.70,92.71 L576.70,95.17 L578.70,95.86 L580.70,95.68 L582.70,95.95 L584.70,94.68 L586.70,93.91 L588.70,92.24 L590.70,91.79 L592.70,91.71 L594.70,91.47 L596.70,91.34 L598.70,91.75 L600.70,91.50 L602.70,92.12 L604.70,93.43 L606.70,93.55 L608.70,93.11 L610.70,93.04 L612.70,92.90 L614.70,92.61 L616.70,93.10 L618.70,94.14 L620.70,94.38 L622.70,93.55 L624.70,94.39 L626.70,94.15 L628.70,93.66 L630.70,93.26 L632.70,93.08 L634.70,92.50 L636.70,93.28 L638.70,92.67" fill="none" stroke="#f04040" stroke-width="1"/>
<circle cx="364.30" cy="93.42" r="1.45" fill="#e01818"/>
<circle cx="366.30" cy="93.42" r="1.45" fill="#e01818"/>
<circle cx="368.30" cy="93.31" r="1.45" fill="#e01818"/>
<circle cx="370.30" cy="93.45" r="1.45" fill="#e01818"/>
<circle cx="372.30" cy="93.42" r="1.45" fill="#e01818"/>
<circle cx="374.30" cy="94.08" r="1.45" fill="#e01818"/>
<circle cx="376.30" cy="92.70" r="1.45" fill="#e01818"/>
<circle cx="378.30" cy="93.15" r="1.45" fill="#e01818"/>
<circle cx="380.30" cy="93.68" r="1.45" fill="#e01818"/>
<circle cx="382.30" cy="92.93" r="1.45" fill="#e01818"/>
<circle cx="384.30" cy="93.78" r="1.45" fill="#e01818"/>
<circle cx="386.30" cy="92.76" r="1.45" fill="#e01818"/>
<circle cx="388.30" cy="93.71" r="1.45" fill="#e01818"/>
<circle cx="390.30" cy="93.08" r="1.45" fill="#e01818"/>
<circle cx="392.30" cy="93.39" r="1.45" fill="#e01818"/>
<circle cx="394.30" cy="93.21" r="1.45" fill="#e01818"/>
<circle cx="396.30" cy="92.28" r="1.45" fill="#e01818"/>
<circle cx="398.30" cy="92.89" r="1.45" fill="#e01818"/>
<circle cx="400.30" cy="93.14" r="1.45" fill="#e01818"/>
<circle cx="402.30" cy="93.89" r="1.45" fill="#e01818"/>
<circle cx="404.30" cy="93.22" r="1.45" fill="#e01818"/>
<circle cx="406.30" cy="92.32" r="1.45" fill="#e01818"/>
<circle cx="408.30" cy="93.63" r="1.45" fill="#e01818"/>
<circle cx="409.90" cy="99.93" r="1.45" fill="#e01818"/>
<circle cx="411.00" cy="109.71" r="1.45" fill="#e01818"/>
<circle cx="412.10" cy="121.00" r="1.45" fill="#e01818"/>
<circle cx="413.20" cy="138.23" r="1.45" fill="#e01818"/>
<circle cx="414.30" cy="145.43" r="1.45" fill="#e01818"/>
<circle cx="415.90" cy="138.88" r="1.45" fill="#e01818"/>
<circle cx="417.00" cy="114.40" r="1.45" fill="#e01818"/>
<circle cx="418.10" cy="97.84" r="1.45" fill="#e01818"/>
<circle cx="419.20" cy="81.10" r="1.45" fill="#e01818"/>
<circle cx="420.30" cy="59.20" r="1.45" fill="#e01818"/>
<circle cx="421.40" cy="46.25" r="1.45" fill="#e01818"/>
<circle cx="422.50" cy="30.56" r="1.45" fill="#e01818"/>
<circle cx="423.60" cy="24.40" r="1.45" fill="#e01818"/>
<circle cx="424.70" cy="35.57" r="1.45" fill="#e01818"/>
<circle cx="425.80" cy="49.75" r="1.45" fill="#e01818"/>
<circle cx="426.90" cy="65.00" r="1.45" fill="#e01818"/>
<circle cx="428.00" cy="80.40" r="1.45" fill="#e01818"/>
<circle cx="429.10" cy="93.74" r="1.45" fill="#e01818"/>
<circle cx="430.70" cy="95.46" r="1.45" fill="#e01818"/>
<circle cx="432.30" cy="97.45" r="1.45" fill="#e01818"/>
<circle cx="433.90" cy="97.70" r="1.45" fill="#e01818"/>
<circle cx="435.50" cy="96.04" r="1.45" fill="#e01818"/>
<circle cx="437.10" cy="94.13" r="1.45" fill="#e01818"/>
<circle cx="438.70" cy="92.91" r="1.45" fill="#e01818"/>
<circle cx="440.70" cy="94.79" r="1.45" fill="#e01818"/>
<circle cx="442.70" cy="93.25" r="1.45" fill="#e01818"/>
<circle cx="444.70" cy="93.25" r="1.45" fill="#e01818"/>
<circle cx="446.70" cy="93.35" r="1.45" fill="#e01818"/>
<circle cx="448.70" cy="95.06" r="1.45" fill="#e01818"/>
<circle cx="450.70" cy="97.26" r="1.45" fill="#e01818"/>
<circle cx="452.70" cy="97.63" r="1.45" fill="#e01818"/>
<circle cx="454.70" cy="98.24" r="1.45" fill="#e01818"/>
<circle cx="456.70" cy="97.89" r="1.45" fill="#e01818"/>
<circle cx="458.70" cy="97.56" r="1.45" fill="#e01818"/>
<circle cx="460.70" cy="95.57" r="1.45" fill="#e01818"/>
<circle cx="462.70" cy="96.40" r="1.45" fill="#e01818"/>
<circle cx="464.70" cy="94.86" r="1.45" fill="#e01818"/>
<circle cx="466.70" cy="96.41" r="1.45" fill="#e01818"/>
<circle cx="468.70" cy="95.38" r="1.45" fill="#e01818"/>
<circle cx="470.30" cy="93.02" r="1.45" fill="#e01818"/>
<circle cx="471.90" cy="93.08" r="1.45" fill="#e01818"/>
<circle cx="473.90" cy="92.46" r="1.45" fill="#e01818"/>
<circle cx="475.90" cy="92.99" r="1.45" fill="#e01818"/>
<circle cx="477.90" cy="92.10" r="1.45" fill="#e01818"/>
<circle cx="479.90" cy="92.84" r="1.45" fill="#e01818"/>
<circle cx="481.90" cy="93.82" r="1.45" fill="#e01818"/>
<circle cx="483.90" cy="94.63" r="1.45" fill="#e01818"/>
<circle cx="485.90" cy="92.46" r="1.45" fill="#e01818"/>
<circle cx="487.90" cy="92.66" r="1.45" fill="#e01818"/>
<circle cx="489.90" cy="92.66" r="1.45" fill="#e01818"/>
<circle cx="491.90" cy="92.53" r="1.45" fill="#e01818"/>
<circle cx="493.90" cy="91.30" r="1.45" fill="#e01818"/>
<circle cx="495.90" cy="91.46" r="1.45" fill="#e01818"/>
<circle cx="497.90" cy="92.26" r="1.45" fill="#e01818"/>
<circle cx="499.90" cy="93.21" r="1.45" fill="#e01818"/>
<circle cx="501.90" cy="92.50" r="1.45" fill="#e01818"/>
<circle cx="503.90" cy="94.05" r="1.45" fill="#e01818"/>
<circle cx="505.90" cy="94.14" r="1.45" fill="#e01818"/>
<circle cx="507.90" cy="94.25" r="1.45" fill="#e01818"/>
<circle cx="509.90" cy="92.77" r="1.45" fill="#e01818"/>
<circle cx="511.90" cy="94.40" r="1.45" fill="#e01818"/>
<circle cx="513.90" cy="92.86" r="1.45" fill="#e01818"/>
<circle cx="515.90" cy="93.31" r="1.45" fill="#e01818"/>
<circle cx="517.90" cy="93.80" r="1.45" fill="#e01818"/>
<circle cx="519.90" cy="94.35" r="1.45" fill="#e01818"/>
<circle cx="521.90" cy="93.31" r="1.45" fill="#e01818"/>
<circle cx="523.90" cy="95.29" r="1.45" fill="#e01818"/>
<circle cx="525.90" cy="95.92" r="1.45" fill="#e01818"/>
<circle cx="527.90" cy="97.53" r="1.45" fill="#e01818"/>
<circle cx="529.50" cy="98.96" r="1.45" fill="#e01818"/>
<circle cx="531.50" cy="100.39" r="1.45" fill="#e01818"/>
<circle cx="533.50" cy="101.54" r="1.45" fill="#e01818"/>
<circle cx="535.50" cy="101.05" r="1.45" fill="#e01818"/>
<circle cx="537.10" cy="97.92" r="1.45" fill="#e01818"/>
<circle cx="538.70" cy="91.87" r="1.45" fill="#e01818"/>
<circle cx="539.80" cy="86.31" r="1.45" fill="#e01818"/>
<circle cx="540.90" cy="81.00" r="1.45" fill="#e01818"/>
<circle cx="542.00" cy="75.77" r="1.45" fill="#e01818"/>
<circle cx="543.10" cy="71.46" r="1.45" fill="#e01818"/>
<circle cx="544.70" cy="67.38" r="1.45" fill="#e01818"/>
<circle cx="546.30" cy="64.68" r="1.45" fill="#e01818"/>
<circle cx="547.90" cy="62.96" r="1.45" fill="#e01818"/>
<circle cx="549.50" cy="65.06" r="1.45" fill="#e01818"/>
<circle cx="550.60" cy="68.90" r="1.45" fill="#e01818"/>
<circle cx="551.70" cy="72.94" r="1.45" fill="#e01818"/>
<circle cx="552.80" cy="76.68" r="1.45" fill="#e01818"/>
<circle cx="553.90" cy="80.17" r="1.45" fill="#e01818"/>
<circle cx="555.50" cy="82.43" r="1.45" fill="#e01818"/>
<circle cx="557.10" cy="85.22" r="1.45" fill="#e01818"/>
<circle cx="558.70" cy="88.07" r="1.45" fill="#e01818"/>
<circle cx="560.70" cy="87.91" r="1.45" fill="#e01818"/>
<circle cx="562.70" cy="90.02" r="1.45" fill="#e01818"/>
<circle cx="564.70" cy="91.39" r="1.45" fill="#e01818"/>
<circle cx="566.70" cy="91.79" r="1.45" fill="#e01818"/>
<circle cx="568.70" cy="93.26" r="1.45" fill="#e01818"/>
<circle cx="570.70" cy="93.39" r="1.45" fill="#e01818"/>
<circle cx="572.70" cy="93.90" r="1.45" fill="#e01818"/>
<circle cx="574.70" cy="92.71" r="1.45" fill="#e01818"/>
<circle cx="576.70" cy="95.17" r="1.45" fill="#e01818"/>
<circle cx="578.70" cy="95.86" r="1.45" fill="#e01818"/>
<circle cx="580.70" cy="95.68" r="1.45" fill="#e01818"/>
<circle cx="582.70" cy="95.95" r="1.45" fill="#e01818"/>
<circle cx="584.70" cy="94.68" r="1.45" fill="#e01818"/>
<circle cx="586.70" cy="93.91" r="1.45" fill="#e01818"/>
<circle cx="588.70" cy="92.24" r="1.45" fill="#e01818"/>
<circle cx="590.70" cy="91.79" r="1.45" fill="#e01818"/>
<circle cx="592.70" cy="91.71" r="1.45" fill="#e01818"/>
<circle cx="594.70" cy="91.47" r="1.45" fill="#e01818"/>
<circle cx="596.70" cy="91.34" r="1.45" fill="#e01818"/>
<circle cx="598.70" cy="91.75" r="1.45" fill="#e01818"/>
<circle cx="600.70" cy="91.50" r="1.45" fill="#e01818"/>
<circle cx="602.70" cy="92.12" r="1.45" fill="#e01818"/>
<circle cx="604.70" cy="93.43" r="1.45" fill="#e01818"/>
<circle cx="606.70" cy="93.55" r="1.45" fill="#e01818"/>
<circle cx="608.70" cy="93.11" r="1.45" fill="#e01818"/>
<circle cx="610.70" cy="93.04" r="1.45" fill="#e01818"/>
<circle cx="612.70" cy="92.90" r="1.45" fill="#e01818"/>
<circle cx="614.70" cy="92.61" r="1.45" fill="#e01818"/>
<circle cx="616.70" cy="93.10" r="1.45" fill="#e01818"/>
<circle cx="618.70" cy="94.14" r="1.45" fill="#e01818"/>
<circle cx="620.70" cy="94.38" r="1.45" fill="#e01818"/>
<circle cx="622.70" cy="93.55" r="1.45" fill="#e01818"/>
<circle cx="624.70" cy="94.39" r="1.45" fill="#e01818"/>
<circle cx="626.70" cy="94.15" r="1.45" fill="#e01818"/>
<circle cx="628.70" cy="93.66" r="1.45" fill="#e01818"/>
<circle cx="630.70" cy="93.26" r="1.45" fill="#e01818"/>
<circle cx="632.70" cy="93.08" r="1.45" fill="#e01818"/>
<circle cx="634.70" cy="92.50" r="1.45" fill="#e01818"/>
<circle cx="636.70" cy="93.28" r="1.45" fill="#e01818"/>
<circle cx="638.70" cy="92.67" r="1.45" fill="#e01818"/>
</g>
<rect x="364.3" y="8.4" width="276.10" height="168.80" fill="none" stroke="#000" stroke-width="1.45"/>
<line x1="391.91" y1="177.2" x2="391.91" y2="170.2" stroke="#000" stroke-width="1.3"/>
<line x1="391.91" y1="8.4" x2="391.91" y2="15.4" stroke="#000" stroke-width="1.3"/>
<line x1="447.13" y1="177.2" x2="447.13" y2="170.2" stroke="#000" stroke-width="1.3"/>
<line x1="447.13" y1="8.4" x2="447.13" y2="15.4" stroke="#000" stroke-width="1.3"/>
<line x1="502.35" y1="177.2" x2="502.35" y2="170.2" stroke="#000" stroke-width="1.3"/>
<line x1="502.35" y1="8.4" x2="502.35" y2="15.4" stroke="#000" stroke-width="1.3"/>
<line x1="557.57" y1="177.2" x2="557.57" y2="170.2" stroke="#000" stroke-width="1.3"/>
<line x1="557.57" y1="8.4" x2="557.57" y2="15.4" stroke="#000" stroke-width="1.3"/>
<line x1="612.79" y1="177.2" x2="612.79" y2="170.2" stroke="#000" stroke-width="1.3"/>
<line x1="612.79" y1="8.4" x2="612.79" y2="15.4" stroke="#000" stroke-width="1.3"/>
<line x1="419.52" y1="177.2" x2="419.52" y2="173.2" stroke="#000" stroke-width="1.3"/>
<line x1="419.52" y1="8.4" x2="419.52" y2="12.4" stroke="#000" stroke-width="1.3"/>
<line x1="474.74" y1="177.2" x2="474.74" y2="173.2" stroke="#000" stroke-width="1.3"/>
<line x1="474.74" y1="8.4" x2="474.74" y2="12.4" stroke="#000" stroke-width="1.3"/>
<line x1="529.96" y1="177.2" x2="529.96" y2="173.2" stroke="#000" stroke-width="1.3"/>
<line x1="529.96" y1="8.4" x2="529.96" y2="12.4" stroke="#000" stroke-width="1.3"/>
<line x1="585.18" y1="177.2" x2="585.18" y2="173.2" stroke="#000" stroke-width="1.3"/>
<line x1="585.18" y1="8.4" x2="585.18" y2="12.4" stroke="#000" stroke-width="1.3"/>
<line x1="364.3" y1="149.07" x2="371.3" y2="149.07" stroke="#000" stroke-width="1.3"/>
<line x1="640.4" y1="149.07" x2="633.4" y2="149.07" stroke="#000" stroke-width="1.3"/>
<line x1="364.3" y1="120.93" x2="371.3" y2="120.93" stroke="#000" stroke-width="1.3"/>
<line x1="640.4" y1="120.93" x2="633.4" y2="120.93" stroke="#000" stroke-width="1.3"/>
<line x1="364.3" y1="92.80" x2="371.3" y2="92.80" stroke="#000" stroke-width="1.3"/>
<line x1="640.4" y1="92.80" x2="633.4" y2="92.80" stroke="#000" stroke-width="1.3"/>
<line x1="364.3" y1="64.67" x2="371.3" y2="64.67" stroke="#000" stroke-width="1.3"/>
<line x1="640.4" y1="64.67" x2="633.4" y2="64.67" stroke="#000" stroke-width="1.3"/>
<line x1="364.3" y1="36.53" x2="371.3" y2="36.53" stroke="#000" stroke-width="1.3"/>
<line x1="640.4" y1="36.53" x2="633.4" y2="36.53" stroke="#000" stroke-width="1.3"/>
<line x1="364.3" y1="163.13" x2="368.3" y2="163.13" stroke="#000" stroke-width="1.3"/>
<line x1="640.4" y1="163.13" x2="636.4" y2="163.13" stroke="#000" stroke-width="1.3"/>
<line x1="364.3" y1="135.00" x2="368.3" y2="135.00" stroke="#000" stroke-width="1.3"/>
<line x1="640.4" y1="135.00" x2="636.4" y2="135.00" stroke="#000" stroke-width="1.3"/>
<line x1="364.3" y1="106.87" x2="368.3" y2="106.87" stroke="#000" stroke-width="1.3"/>
<line x1="640.4" y1="106.87" x2="636.4" y2="106.87" stroke="#000" stroke-width="1.3"/>
<line x1="364.3" y1="78.73" x2="368.3" y2="78.73" stroke="#000" stroke-width="1.3"/>
<line x1="640.4" y1="78.73" x2="636.4" y2="78.73" stroke="#000" stroke-width="1.3"/>
<line x1="364.3" y1="50.60" x2="368.3" y2="50.60" stroke="#000" stroke-width="1.3"/>
<line x1="640.4" y1="50.60" x2="636.4" y2="50.60" stroke="#000" stroke-width="1.3"/>
<line x1="364.3" y1="22.47" x2="368.3" y2="22.47" stroke="#000" stroke-width="1.3"/>
<line x1="640.4" y1="22.47" x2="636.4" y2="22.47" stroke="#000" stroke-width="1.3"/>
<text transform="translate(391.91,192.20) scale(1,1.075)" font-size="13.2" text-anchor="middle" fill="#111">635</text>
<text transform="translate(447.13,192.20) scale(1,1.075)" font-size="13.2" text-anchor="middle" fill="#111">640</text>
<text transform="translate(502.35,192.20) scale(1,1.075)" font-size="13.2" text-anchor="middle" fill="#111">645</text>
<text transform="translate(557.57,192.20) scale(1,1.075)" font-size="13.2" text-anchor="middle" fill="#111">650</text>
<text transform="translate(612.79,192.20) scale(1,1.075)" font-size="13.2" text-anchor="middle" fill="#111">655</text>
<text transform="translate(647.80,12.40) scale(1,1.075)" font-size="13.2" text-anchor="start" fill="#111">3</text>
<text transform="translate(647.80,40.53) scale(1,1.075)" font-size="13.2" text-anchor="start" fill="#111">2</text>
<g transform="translate(647.80,68.67) scale(1,1.075)" fill="#111"><path transform="translate(0.00,0) scale(0.006445,-0.006445)" d="M763,0 L583,0 L583,1147 Q518,1085 412,1023 Q306,961 222,930 L222,1104 Q373,1175 486,1276 Q580,1360 630,1420 L763,1420 Z"/></g>
<text transform="translate(647.80,96.80) scale(1,1.075)" font-size="13.2" text-anchor="start" fill="#111">0</text>
<g transform="translate(647.80,124.93) scale(1,1.075)" fill="#111"><text x="0.00" y="0" font-size="13.2">-</text><path transform="translate(4.40,0) scale(0.006445,-0.006445)" d="M763,0 L583,0 L583,1147 Q518,1085 412,1023 Q306,961 222,930 L222,1104 Q373,1175 486,1276 Q580,1360 630,1420 L763,1420 Z"/></g>
<text transform="translate(647.80,153.07) scale(1,1.075)" font-size="13.2" text-anchor="start" fill="#111">-2</text>
<text transform="translate(647.80,181.20) scale(1,1.075)" font-size="13.2" text-anchor="start" fill="#111">-3</text>
<text x="427.90" y="213.60" font-size="16.7" text-anchor="start" fill="#111" >Photon energy&#160;&#160;(eV)</text>
<text x="374.20" y="37.50" font-size="16.7" text-anchor="start" fill="#111" >(c)</text>
<g transform="translate(669.8,52.3) rotate(90)"><text x="0" y="0" font-size="16.9" fill="#111">(XMLD)&#160;&#160;(%)</text></g>
<defs><radialGradient id="sph" cx="0.5" cy="0.5" fx="0.36" fy="0.32" r="0.55"><stop offset="0" stop-color="#e8e8ff"/><stop offset="0.22" stop-color="#4040ff"/><stop offset="0.65" stop-color="#0808e8"/><stop offset="1" stop-color="#0000a8"/></radialGradient></defs>
<g clip-path="url(#cd)">
<path d="M364.40,258.90 C365.02,259.00 361.35,258.27 368.10,259.50 C374.85,260.73 391.97,263.67 404.90,266.30 C417.83,268.93 432.08,272.35 445.70,275.30 C459.32,278.25 476.88,281.92 486.60,284.00 C496.32,286.08 493.43,285.22 504.00,287.80 C514.57,290.38 538.25,296.32 550.00,299.50 C561.75,302.68 566.17,304.07 574.50,306.90 C582.83,309.73 589.02,312.20 600.00,316.50 C610.98,320.80 633.67,330.00 640.40,332.70" fill="none" stroke="#111" stroke-width="1.3"/>
<g stroke="#5555ff" stroke-width="0.95"><line x1="364.4" y1="251.1" x2="364.4" y2="265.5"/><line x1="360.9" y1="251.1" x2="367.9" y2="251.1"/><line x1="360.9" y1="265.5" x2="367.9" y2="265.5"/></g>
<g stroke="#5555ff" stroke-width="0.95"><line x1="506.9" y1="284.2" x2="506.9" y2="298.9"/><line x1="503.4" y1="284.2" x2="510.4" y2="284.2"/><line x1="503.4" y1="298.9" x2="510.4" y2="298.9"/></g>
<g stroke="#5555ff" stroke-width="0.95"><line x1="536.6" y1="272.4" x2="536.6" y2="286.8"/><line x1="533.1" y1="272.4" x2="540.1" y2="272.4"/><line x1="533.1" y1="286.8" x2="540.1" y2="286.8"/></g>
<g stroke="#5555ff" stroke-width="0.95"><line x1="571.7" y1="300.4" x2="571.7" y2="315.1"/><line x1="568.2" y1="300.4" x2="575.2" y2="300.4"/><line x1="568.2" y1="315.1" x2="575.2" y2="315.1"/></g>
<g stroke="#5555ff" stroke-width="0.95"><line x1="584.9" y1="310.9" x2="584.9" y2="326.4"/><line x1="581.4" y1="310.9" x2="588.4" y2="310.9"/><line x1="581.4" y1="326.4" x2="588.4" y2="326.4"/></g>
<g stroke="#5555ff" stroke-width="0.95"><line x1="599" y1="317.7" x2="599" y2="332.7"/><line x1="595.5" y1="317.7" x2="602.5" y2="317.7"/><line x1="595.5" y1="332.7" x2="602.5" y2="332.7"/></g>
<g stroke="#5555ff" stroke-width="0.95"><line x1="605.9" y1="310.3" x2="605.9" y2="325.2"/><line x1="602.4" y1="310.3" x2="609.4" y2="310.3"/><line x1="602.4" y1="325.2" x2="609.4" y2="325.2"/></g>
<g stroke="#5555ff" stroke-width="0.95"><line x1="612.7" y1="305.2" x2="612.7" y2="319.9"/><line x1="609.2" y1="305.2" x2="616.2" y2="305.2"/><line x1="609.2" y1="319.9" x2="616.2" y2="319.9"/></g>
<circle cx="364.4" cy="258.3" r="4.1" fill="url(#sph)"/>
<circle cx="506.9" cy="291.6" r="4.1" fill="url(#sph)"/>
<circle cx="536.6" cy="279.4" r="4.1" fill="url(#sph)"/>
<circle cx="571.7" cy="307.5" r="4.1" fill="url(#sph)"/>
<circle cx="584.9" cy="318.8" r="4.1" fill="url(#sph)"/>
<circle cx="599" cy="325" r="4.1" fill="url(#sph)"/>
<circle cx="605.9" cy="317.4" r="4.1" fill="url(#sph)"/>
<circle cx="612.7" cy="312.6" r="4.1" fill="url(#sph)"/>
</g>
<rect x="364.4" y="234.25" width="276.00" height="168.95" fill="none" stroke="#000" stroke-width="1.45"/>
<line x1="502.40" y1="403.2" x2="502.40" y2="396.2" stroke="#000" stroke-width="1.3"/>
<line x1="502.40" y1="234.25" x2="502.40" y2="241.25" stroke="#000" stroke-width="1.3"/>
<line x1="433.40" y1="403.2" x2="433.40" y2="399.2" stroke="#000" stroke-width="1.3"/>
<line x1="433.40" y1="234.25" x2="433.40" y2="238.25" stroke="#000" stroke-width="1.3"/>
<line x1="571.40" y1="403.2" x2="571.40" y2="399.2" stroke="#000" stroke-width="1.3"/>
<line x1="571.40" y1="234.25" x2="571.40" y2="238.25" stroke="#000" stroke-width="1.3"/>
<line x1="364.4" y1="290.57" x2="371.4" y2="290.57" stroke="#000" stroke-width="1.3"/>
<line x1="640.4" y1="290.57" x2="633.4" y2="290.57" stroke="#000" stroke-width="1.3"/>
<line x1="364.4" y1="346.88" x2="368.4" y2="346.88" stroke="#000" stroke-width="1.3"/>
<line x1="640.4" y1="346.88" x2="636.4" y2="346.88" stroke="#000" stroke-width="1.3"/>
<text transform="translate(364.40,417.60) scale(1,1.075)" font-size="13.2" text-anchor="middle" fill="#111">0</text>
<text transform="translate(502.40,417.60) scale(1,1.075)" font-size="13.2" text-anchor="middle" fill="#111">200</text>
<text transform="translate(640.40,417.60) scale(1,1.075)" font-size="13.2" text-anchor="middle" fill="#111">400</text>
<text transform="translate(647.80,406.80) scale(1,1.075)" font-size="13.2" text-anchor="start" fill="#111">0</text>
<text transform="translate(647.80,294.17) scale(1,1.075)" font-size="13.2" text-anchor="start" fill="#111">2</text>
<text x="442.20" y="436.60" font-size="17.0" text-anchor="start" fill="#111" >Temperature&#160;&#160;(K)</text>
<text x="372.80" y="385.70" font-size="16.7" text-anchor="start" fill="#111" >(d)</text>
<g transform="translate(668.1,260.9) rotate(90)"><text x="0" y="0" font-size="16.9" fill="#111">max. XMLD&#160;&#160;(%)</text></g>
</svg>
</body></html>
